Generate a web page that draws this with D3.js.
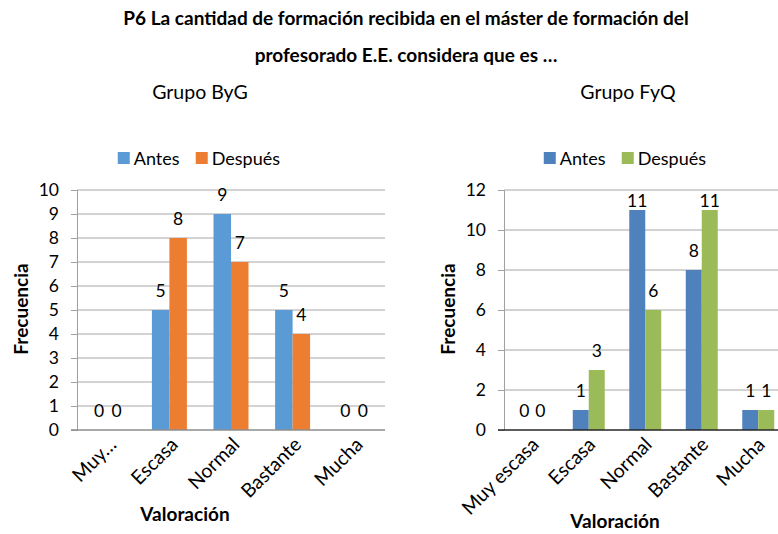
<!DOCTYPE html>
<html>
<head>
<meta charset="utf-8">
<script src="https://cdn.jsdelivr.net/npm/d3@7"></script>
<style>
  html, body { margin: 0; padding: 0; background: #fff; }
  svg { display: block; font-family: Lato, "Open Sans", sans-serif; }
</style>
</head>
<body>
<svg id="chart" width="778" height="534"></svg>
<script>
// Rating categories (the first group shows a truncated first label)
const categoriesByG = ["Muy…", "Escasa", "Normal", "Bastante", "Mucha"];
const categoriesFyQ = ["Muy escasa", "Escasa", "Normal", "Bastante", "Mucha"];
const seriesNames = ["Antes", "Después"];

// Frequencies per group, before and after
const antesByG   = [0, 5, 9, 5, 0];
const despuesByG = [0, 8, 7, 4, 0];
const antesFyQ   = [0, 1, 11, 8, 1];
const despuesFyQ = [0, 3, 6, 11, 1];

const ticksByG = [0, 1, 2, 3, 4, 5, 6, 7, 8, 9, 10];
const ticksFyQ = [0, 2, 4, 6, 8, 10, 12];

const titleLines = [
  "P6 La cantidad de formación recibida en el máster de formación del",
  "profesorado E.E. considera que es …"
];

const svg = d3.select("#chart");

// Main title
svg.selectAll("text.title").data(titleLines).join("text")
  .attr("class", "title")
  .attr("x", 406)
  .attr("y", (d, i) => 25 + i * 37)
  .attr("text-anchor", "middle")
  .attr("font-weight", "bold")
  .attr("font-size", 19)
  .attr("fill", "#000")
  .text(d => d);

function drawPanel(cfg) {
  const g = svg.append("g");

  // group caption
  g.append("text")
    .attr("x", cfg.captionX).attr("y", 99)
    .attr("text-anchor", "middle")
    .attr("font-size", 19.5)
    .attr("fill", "#000")
    .text(cfg.caption);

  const x = d3.scaleBand()
    .domain(cfg.categories)
    .range([cfg.left, cfg.right])
    .paddingInner(cfg.pad).paddingOuter(cfg.pad / 2);
  const xs = d3.scaleBand().domain(seriesNames).range([0, x.bandwidth()]);
  const y = d3.scaleLinear().domain([0, cfg.max]).range([430, 190]);

  // gridlines
  g.append("g").selectAll("line").data(cfg.ticks.filter(t => t > 0)).join("line")
    .attr("x1", cfg.left).attr("x2", cfg.gridEnd)
    .attr("y1", d => y(d)).attr("y2", d => y(d))
    .attr("stroke", "#a6a6a6").attr("stroke-width", 1);

  // y axis
  const yAxis = g.append("g")
    .attr("transform", `translate(${cfg.left},0)`)
    .call(d3.axisLeft(y).tickValues(cfg.ticks).tickSize(6).tickPadding(12));
  yAxis.select(".domain").attr("stroke", "#a0a0a0");
  yAxis.selectAll(".tick line").attr("stroke", "#a0a0a0");
  yAxis.selectAll(".tick text")
    .attr("font-size", 17.5).attr("font-family", "Lato, sans-serif").attr("fill", "#000");

  // bars
  const rows = cfg.categories.map((c, i) => ({ cat: c, vals: [cfg.antes[i], cfg.despues[i]] }));
  const groups = g.append("g").selectAll("g").data(rows).join("g")
    .attr("transform", d => `translate(${x(d.cat)},0)`);
  groups.selectAll("rect").data(d => d.vals.map((v, j) => ({ s: seriesNames[j], v }))).join("rect")
    .attr("x", d => xs(d.s))
    .attr("width", xs.bandwidth())
    .attr("y", d => y(d.v))
    .attr("height", d => y(0) - y(d.v))
    .attr("fill", d => d.s === "Antes" ? cfg.colors[0] : cfg.colors[1]);

  // value labels
  groups.selectAll("text").data(d => d.vals.map((v, j) => ({ s: seriesNames[j], v }))).join("text")
    .attr("x", d => xs(d.s) + xs.bandwidth() / 2)
    .attr("y", d => Math.max(y(d.v) - 13, cfg.labelMinY))
    .attr("text-anchor", "middle")
    .attr("font-size", 17.5)
    .attr("fill", "#000")
    .text(d => d.v);

  // x axis baseline
  g.append("line")
    .attr("x1", cfg.left - 6).attr("x2", cfg.gridEnd)
    .attr("y1", y(0)).attr("y2", y(0))
    .attr("stroke", cfg.zeroColor).attr("stroke-width", 1.3);

  // category labels
  g.append("g").selectAll("text").data(cfg.categories).join("text")
    .attr("transform", d => `translate(${x(d) + x.bandwidth() / 2 + cfg.labelShift},441) rotate(-45)`)
    .attr("text-anchor", "end")
    .attr("dy", "0.35em")
    .attr("font-size", 19.5)
    .attr("fill", "#000")
    .text(d => d);

  // axis titles
  g.append("text")
    .attr("x", cfg.xTitleX).attr("y", cfg.xTitleY)
    .attr("text-anchor", "middle")
    .attr("font-weight", "bold").attr("font-size", 19)
    .text("Valoración");
  g.append("text")
    .attr("transform", `translate(${cfg.yTitleX},309) rotate(-90)`)
    .attr("text-anchor", "middle")
    .attr("font-weight", "bold").attr("font-size", 19)
    .text("Frecuencia");

  // legend, centred on cfg.legendX
  const leg = g.append("g");
  const items = leg.selectAll("g").data(seriesNames).join("g");
  items.append("rect").attr("width", 12).attr("height", 12).attr("y", 152)
    .attr("fill", (d, i) => cfg.colors[i]);
  items.append("text").attr("x", 16).attr("y", 164.5)
    .attr("font-size", 18).attr("fill", "#000").text(d => d);
  const widths = [];
  items.each(function () { widths.push(this.getBBox().width); });
  const total = widths[0] + 16 + widths[1];
  let off = cfg.legendX - total / 2;
  items.attr("transform", (d, i) => {
    const t = `translate(${off},0)`;
    off += widths[i] + 16;
    return t;
  });
}

drawPanel({
  caption: "Grupo ByG", captionX: 200,
  categories: categoriesByG, antes: antesByG, despues: despuesByG,
  ticks: ticksByG, max: 10,
  left: 77, right: 385, gridEnd: 385, pad: 0.432,
  colors: ["#5b9bd5", "#ed7d31"], zeroColor: "#8c8c8c",
  labelMinY: 0, labelShift: 5,
  xTitleX: 185, xTitleY: 521, yTitleX: 28, legendX: 199
});

drawPanel({
  caption: "Grupo FyQ", captionX: 628,
  categories: categoriesFyQ, antes: antesFyQ, despues: despuesFyQ,
  ticks: ticksFyQ, max: 12,
  left: 504, right: 786.5, gridEnd: 778, pad: 0.434,
  colors: ["#4f81bd", "#9bbb59"], zeroColor: "#262626",
  labelMinY: 207, labelShift: 3,
  xTitleX: 615, xTitleY: 528, yTitleX: 455, legendX: 625
});
</script>
</body>
</html>
